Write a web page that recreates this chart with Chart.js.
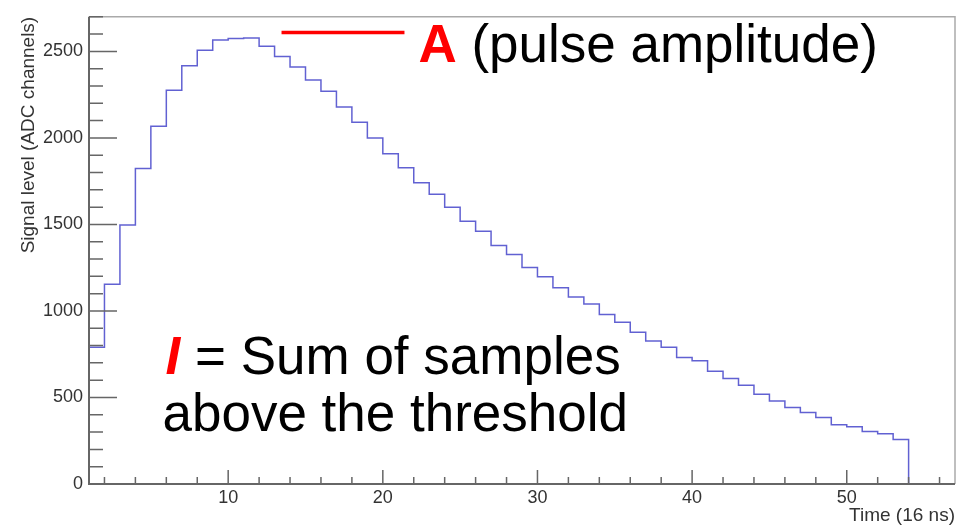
<!DOCTYPE html>
<html>
<head>
<meta charset="utf-8">
<script src="https://cdn.jsdelivr.net/npm/chart.js@4.4.0/dist/chart.umd.min.js"></script>
<style>
html, body { margin: 0; padding: 0; background: #fff; }
</style>
</head>
<body>
<canvas id="myChart" width="957" height="527"></canvas>
<script>
// one sample per 16 ns bin, bins start at 1 and are 1 wide
var binStart = [1, 2, 3, 4, 5, 6, 7, 8, 9, 10, 11, 12, 13, 14, 15, 16, 17, 18, 19, 20,
    21, 22, 23, 24, 25, 26, 27, 28, 29, 30, 31, 32, 33, 34, 35, 36, 37, 38, 39, 40,
    41, 42, 43, 44, 45, 46, 47, 48, 49, 50, 51, 52, 53];
var signal = [790, 1154, 1497, 1823, 2067, 2276, 2417, 2507, 2566, 2575, 2578, 2530, 2470, 2410, 2335, 2270, 2179, 2090, 2000, 1909,
    1827, 1741, 1674, 1600, 1518, 1461, 1379, 1327, 1251, 1197, 1134, 1080, 1040, 979, 935, 877, 827, 790, 731, 712,
    651, 610, 570, 518, 480, 442, 413, 385, 343, 331, 303, 290, 257];
var binWidth = 1;

var xTicks = [10, 20, 30, 40, 50];
var yTicks = [0, 500, 1000, 1500, 2000, 2500];
var xMinorStep = 2;
var yMinorStep = 100;

// histogram outline: each bin edge holds its value until the next edge
var points = binStart.map(function(x, i) {
    return { x: x, y: signal[i] };
});
points.push({ x: binStart[binStart.length - 1] + binWidth, y: 0 });

var tickFont = { family: 'Liberation Sans', size: 18 };
var titleFont = { family: 'Liberation Sans', size: 19 };

// ROOT style frame with ticks pointing inwards
var frame = {
    id: 'frame',
    afterDraw: function(chart) {
        var c = chart.ctx, a = chart.chartArea;
        var xs = chart.scales.x, ys = chart.scales.y;
        c.save();
        c.strokeStyle = '#aaa';
        c.lineWidth = 1.5;
        c.beginPath();
        c.moveTo(a.left, a.top); c.lineTo(a.right, a.top); c.lineTo(a.right, a.bottom);
        c.stroke();
        c.strokeStyle = '#666';
        c.lineWidth = 1.5;
        var v, p;
        c.beginPath();
        for (v = xs.min + 1; v <= xs.max; v += xMinorStep) {
            p = xs.getPixelForValue(v);
            var len = xTicks.indexOf(v) >= 0 ? 14 : 7;
            c.moveTo(p, a.bottom); c.lineTo(p, a.bottom - len);
        }
        for (v = 0; v <= ys.max; v += yMinorStep) {
            p = ys.getPixelForValue(v);
            var ylen = yTicks.indexOf(v) >= 0 ? 28 : 14;
            c.moveTo(a.left, p); c.lineTo(a.left + ylen, p);
        }
        c.stroke();
        c.lineWidth = 2;
        c.beginPath();
        c.moveTo(a.left, a.top); c.lineTo(a.left, a.bottom); c.lineTo(a.right, a.bottom);
        c.stroke();
        c.restore();
    }
};

// the two big notes written on the plot
var notes = {
    id: 'notes',
    afterDraw: function(chart) {
        var c = chart.ctx;
        var xs = chart.scales.x, ys = chart.scales.y;
        c.save();
        c.strokeStyle = '#ff0000';
        c.lineWidth = 3.5;
        c.beginPath();
        c.moveTo(xs.getPixelForValue(13.45), ys.getPixelForValue(2609));
        c.lineTo(xs.getPixelForValue(21.4), ys.getPixelForValue(2609));
        c.stroke();

        c.textBaseline = 'alphabetic';
        c.textAlign = 'left';
        var x = xs.getPixelForValue(22.3), y = ys.getPixelForValue(2440);
        c.font = 'bold 53px "Liberation Sans"';
        c.fillStyle = '#ff0000';
        c.fillText('A', x, y);
        x += c.measureText('A').width;
        c.font = '53px "Liberation Sans"';
        c.fillStyle = '#000';
        c.fillText(' (pulse amplitude)', x, y);

        x = xs.getPixelForValue(5.95);
        y = ys.getPixelForValue(634);
        c.font = 'italic bold 53px "Liberation Sans"';
        c.fillStyle = '#ff0000';
        c.fillText('I', x, y);
        x += c.measureText('I').width;
        c.font = '53px "Liberation Sans"';
        c.fillStyle = '#000';
        c.fillText(' = Sum of samples', x, y);
        c.fillText('above the threshold', xs.getPixelForValue(5.75), ys.getPixelForValue(309));
        c.restore();
    }
};

var ctx = document.getElementById('myChart').getContext('2d');
var myChart = new Chart(ctx, {
    type: 'line',
    data: {
        datasets: [{
            data: points,
            stepped: true,
            borderColor: 'rgba(80, 80, 205, 0.9)',
            borderWidth: 1.5,
            pointRadius: 0,
            fill: false
        }]
    },
    options: {
        responsive: false,
        animation: false,
        layout: { padding: { top: 12, right: 2, left: 0, bottom: 0 } },
        plugins: {
            legend: { display: false },
            tooltip: { enabled: false }
        },
        scales: {
            x: {
                type: 'linear',
                min: 1,
                max: 57,
                afterBuildTicks: function(s) {
                    s.ticks = xTicks.map(function(v) { return { value: v }; });
                },
                afterFit: function(s) { s.height = 43; },
                grid: { display: false, drawTicks: false },
                border: { display: false },
                ticks: {
                    font: tickFont, color: '#333', padding: 3, maxRotation: 0, autoSkip: false,
                    callback: function(v) { return String(v); }
                },
                title: {
                    display: true,
                    text: 'Time (16 ns)',
                    align: 'end',
                    font: titleFont,
                    color: '#333',
                    padding: { top: 0, bottom: 0 }
                }
            },
            y: {
                min: 0,
                max: 2700,
                afterBuildTicks: function(s) {
                    s.ticks = yTicks.map(function(v) { return { value: v }; });
                },
                afterFit: function(s) { s.width = 89; },
                grid: { display: false, drawTicks: false },
                border: { display: false },
                ticks: {
                    font: tickFont, color: '#333', padding: 6, autoSkip: false,
                    callback: function(v) { return String(v); }
                },
                title: {
                    display: true,
                    text: 'Signal level (ADC channels)',
                    align: 'end',
                    font: titleFont,
                    color: '#333',
                    padding: { top: 17, bottom: 0 }
                }
            }
        }
    },
    plugins: [frame, notes]
});
</script>
</body>
</html>
